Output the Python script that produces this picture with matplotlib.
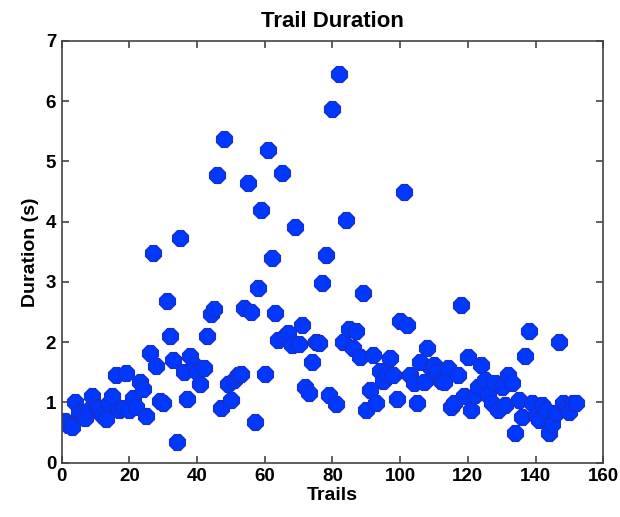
import matplotlib
matplotlib.use("Agg")
import matplotlib.pyplot as plt

# Valeurs (numéro d'essai, durée en s)
trails = list(range(1, 153))
duration = [
    0.70, 0.62, 0.60, 1.00, 0.85, 0.82, 0.75, 0.87, 1.10, 0.93,
    0.90, 0.80, 0.72, 0.99, 1.10, 1.46, 0.88, 0.90, 1.49, 0.87,
    1.08, 0.93, 1.34, 1.22, 0.78, 1.82, 3.48, 1.60, 1.03, 0.99,
    2.68, 2.10, 1.70, 0.35, 3.73, 1.50, 1.05, 1.77, 1.62, 1.50,
    1.30, 1.58, 2.10, 2.47, 2.55, 4.78, 0.90, 5.37, 1.30, 1.04,
    1.38, 1.45, 1.48, 2.57, 4.64, 2.50, 0.68, 2.90, 4.19, 1.48,
    5.19, 3.39, 2.48, 2.04, 4.81, 2.10, 2.15, 1.95, 3.92, 1.97,
    2.29, 1.26, 1.15, 1.68, 2.00, 1.98, 2.98, 3.44, 1.13, 5.87,
    0.98, 6.45, 2.01, 4.03, 2.22, 1.90, 2.18, 1.75, 2.81, 0.88,
    1.21, 1.79, 0.99, 1.52, 1.35, 1.48, 1.73, 1.46, 1.06, 2.36,
    4.50, 2.29, 1.45, 1.32, 0.99, 1.68, 1.34, 1.90, 1.57, 1.62,
    1.50, 1.36, 1.34, 1.58, 0.93, 0.99, 1.45, 2.62, 1.10, 1.76,
    0.87, 1.12, 1.26, 1.62, 1.37, 1.12, 0.99, 1.32, 0.87, 1.26,
    0.96, 1.46, 1.33, 0.50, 1.04, 0.76, 1.77, 2.19, 0.99, 0.80,
    0.71, 0.95, 0.87, 0.50, 0.65, 0.82, 2.00, 0.99, 0.90, 0.85,
    0.99, 0.99,
]

plt.rcParams["font.family"] = ["Liberation Sans", "DejaVu Sans"]

fig = plt.figure(figsize=(6.2, 5.17), dpi=100)
ax = fig.add_axes([0.0995, 0.105, 0.8735, 0.8157])

# marqueurs octogonaux façon MATLAB
ax.plot(trails, duration, linestyle="none", marker="8", markersize=12,
        markerfacecolor="#0038ff", markeredgecolor="#1a2fc0", markeredgewidth=0.8)

ax.set_xlim(0, 160)
ax.set_ylim(0, 7)
ax.set_xticks(range(0, 161, 20))
ax.set_yticks(range(0, 8))
ax.tick_params(direction="in", top=True, right=True, length=5, width=1.2,
               color="#444444", labelsize=13.5, pad=4)
for lab in ax.get_xticklabels() + ax.get_yticklabels():
    lab.set_fontweight("bold")
for sp in ax.spines.values():
    sp.set_color("#444444")
    sp.set_linewidth(1.2)

ax.set_title("Trail Duration", fontsize=16, fontweight="bold", pad=10)
ax.set_xlabel("Trails", fontsize=14, fontweight="bold", labelpad=1)
ax.set_ylabel("Duration (s)", fontsize=14, fontweight="bold", labelpad=5)

plt.savefig("out.png", dpi=100)
